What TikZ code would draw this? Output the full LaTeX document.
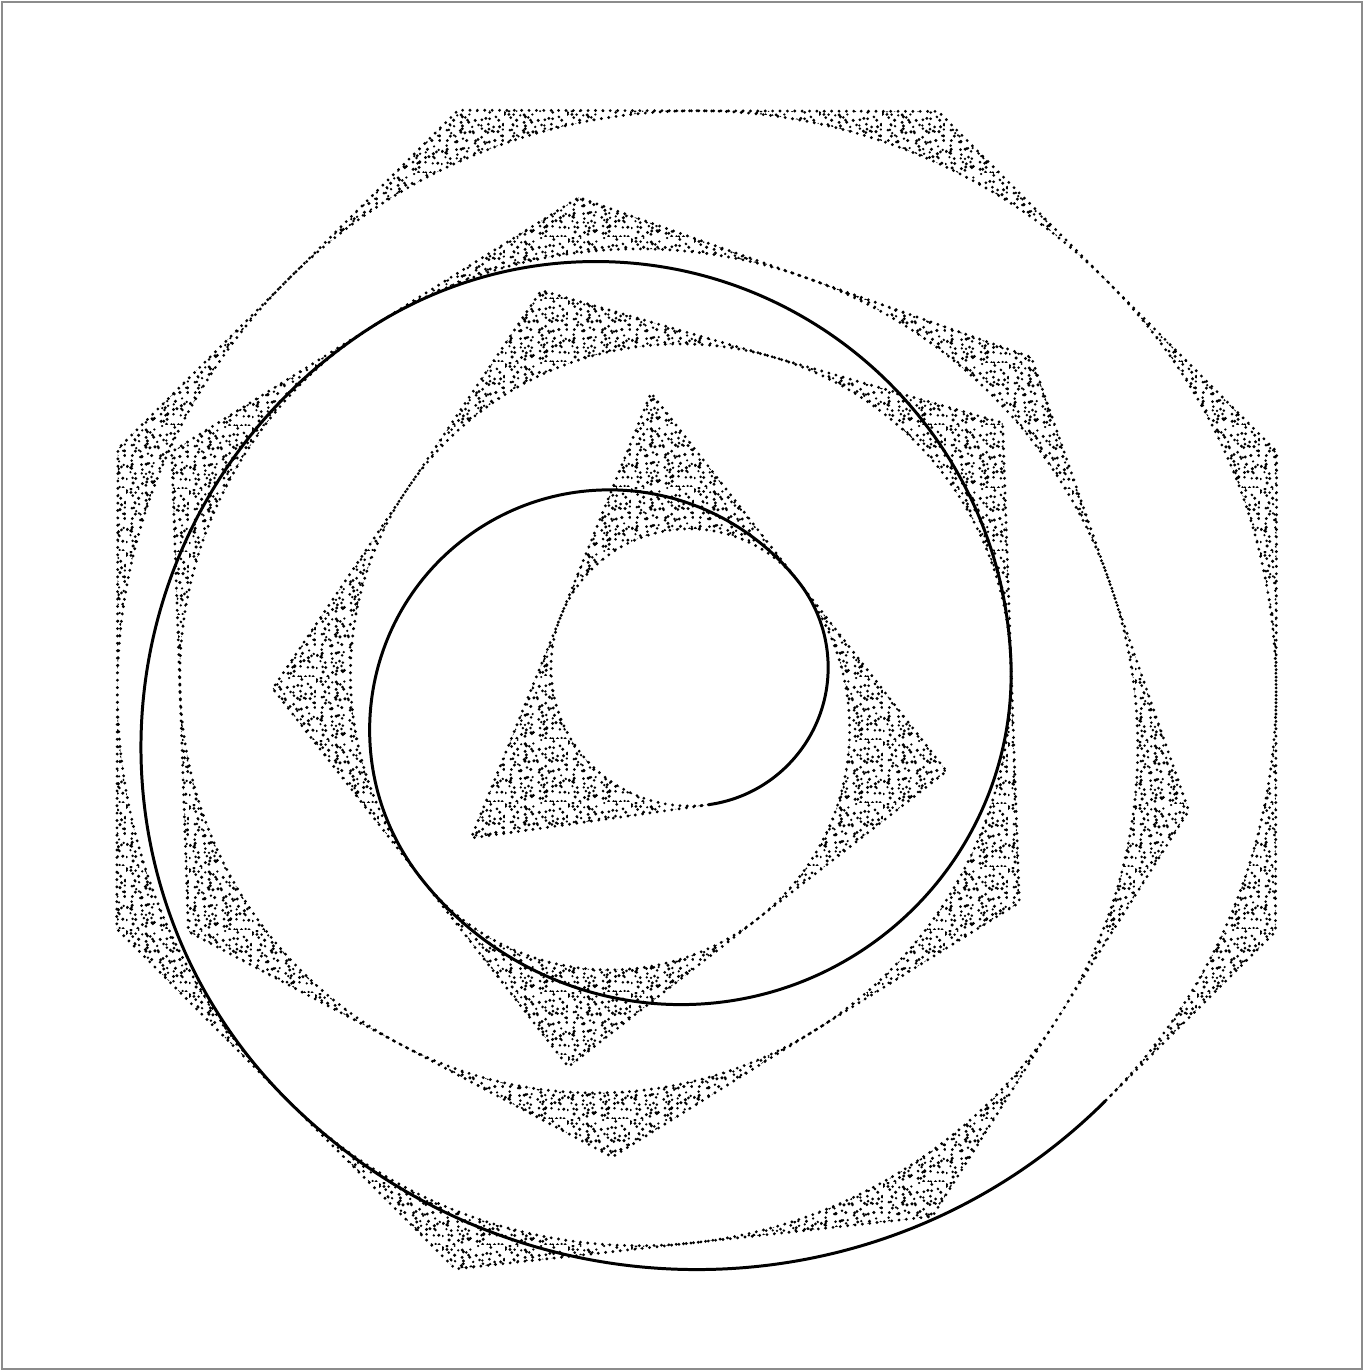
\documentclass[tikz,border=0pt]{standalone}
\usetikzlibrary{calc,patterns}
\pgfdeclarepatternformonly{stipple}{\pgfqpoint{0pt}{0pt}}{\pgfqpoint{18pt}{18pt}}{\pgfqpoint{18pt}{18pt}}{%
  \pgfmathsetseed{4711}%
  \foreach \i in {0,...,11}{%
    \foreach \j in {0,...,11}{%
      \pgfmathsetmacro\sx{mod((\i+0.5+1.5*(rnd-0.5))*1.5+18,18)}%
      \pgfmathsetmacro\sy{mod((\j+0.5+1.5*(rnd-0.5))*1.5+18,18)}%
      \pgfmathsetmacro\sr{0.34+0.16*rnd}%
      \pgfpathcircle{\pgfqpoint{\sx pt}{\sy pt}}{\sr pt}%
      \pgfusepath{fill}%
    }%
  }%
}
\begin{document}
\begin{tikzpicture}[
  band/.style={pattern=stipple, pattern color=black, draw=black, line width=0.9pt,
               line cap=round, dash pattern=on 0pt off 2.1pt},
  spiralline/.style={draw=black, line width=0.85pt},
  frame/.style={draw=black!45, line width=0.5pt}]
\useasboundingbox (0,0) rectangle (13.64,13.71);
\draw[frame] (0.02,0.02) rectangle (13.62,13.69);
\def\side{4.80}
\def\ang{-112.0}
\pgfmathsetmacro\rA{\side*0.288675}
\pgfmathsetmacro\rB{\side*0.5}
\pgfmathsetmacro\rC{\side*0.688191}
\pgfmathsetmacro\rD{\side*0.866025}
\pgfmathsetmacro\rE{\side*1.038261}
\pgfmathsetmacro\rF{\side*1.207107}
\pgfmathsetmacro\aT{\ang+30}
\pgfmathsetmacro\aS{\ang+150}
\pgfmathsetmacro\aP{\ang+330}
\pgfmathsetmacro\aX{\ang+474}
\pgfmathsetmacro\aH{\ang+594}
\pgfmathsetmacro\aO{\ang+696.857}
% triangle
\coordinate (V0) at (6.51,9.78);
\coordinate (V1) at ($(V0)+(\ang:\side)$);
\coordinate (V2) at ($(V1)!1!-60:(V0)$);
% square
\coordinate (S0) at (V2);
\coordinate (S1) at (V0);
\coordinate (S2) at ($(S1)!1!-90:(S0)$);
\coordinate (S3) at ($(S2)!1!-90:(S1)$);
% pentagon
\coordinate (P0) at (S2);
\coordinate (P1) at (S3);
\coordinate (P2) at ($(P1)!1!-108:(P0)$);
\coordinate (P3) at ($(P2)!1!-108:(P1)$);
\coordinate (P4) at ($(P3)!1!-108:(P2)$);
% hexagon
\coordinate (X0) at (P2);
\coordinate (X1) at (P3);
\coordinate (X2) at ($(X1)!1!-120:(X0)$);
\coordinate (X3) at ($(X2)!1!-120:(X1)$);
\coordinate (X4) at ($(X3)!1!-120:(X2)$);
\coordinate (X5) at ($(X4)!1!-120:(X3)$);
% heptagon
\coordinate (H0) at (X2);
\coordinate (H1) at (X3);
\coordinate (H2) at ($(H1)!1!-128.5714:(H0)$);
\coordinate (H3) at ($(H2)!1!-128.5714:(H1)$);
\coordinate (H4) at ($(H3)!1!-128.5714:(H2)$);
\coordinate (H5) at ($(H4)!1!-128.5714:(H3)$);
\coordinate (H6) at ($(H5)!1!-128.5714:(H4)$);
% octagon
\coordinate (O0) at (H2);
\coordinate (O1) at (H3);
\coordinate (O2) at ($(O1)!1!-135:(O0)$);
\coordinate (O3) at ($(O2)!1!-135:(O1)$);
\coordinate (O4) at ($(O3)!1!-135:(O2)$);
\coordinate (O5) at ($(O4)!1!-135:(O3)$);
\coordinate (O6) at ($(O5)!1!-135:(O4)$);
\coordinate (O7) at ($(O6)!1!-135:(O5)$);
% tangent points (edge midpoints)
\coordinate (TM1) at ($(V1)!0.5!(V2)$);
\coordinate (TM2) at ($(V2)!0.5!(V0)$);
\coordinate (SM0) at ($(S0)!0.5!(S1)$);
\coordinate (SM2) at ($(S2)!0.5!(S3)$);
\coordinate (PM0) at (SM2);
\coordinate (PM2) at ($(P2)!0.5!(P3)$);
\coordinate (XM0) at (PM2);
\coordinate (XM2) at ($(X2)!0.5!(X3)$);
\coordinate (HM0) at (XM2);
\coordinate (HM2) at ($(H2)!0.5!(H3)$);
\coordinate (OM0) at (HM2);
\coordinate (OM2) at ($(O2)!0.5!(O3)$);
% stippled bands (polygon minus incircle, where the spiral does not run)
\path[band] (OM2) -- (O3) -- (O4) -- (O5) -- (O6) -- (O7) -- (O0) -- (OM0)
  arc[start angle=\aO, delta angle=-270, radius=\rF] -- cycle;
\path[band] (HM2) -- (H3) -- (H4) -- (H5) -- (H6) -- (H0) -- (HM0)
  arc[start angle=\aH, delta angle=-257.143, radius=\rE] -- cycle;
\path[band] (XM2) -- (X3) -- (X4) -- (X5) -- (X0) -- (XM0)
  arc[start angle=\aX, delta angle=-240, radius=\rD] -- cycle;
\path[band] (PM2) -- (P3) -- (P4) -- (P0) -- (PM0)
  arc[start angle=\aP, delta angle=-216, radius=\rC] -- cycle;
\path[band] (SM2) -- (S3) -- (S0) -- (SM0)
  arc[start angle=\aS, delta angle=-180, radius=\rB] -- cycle;
\path[band] (TM2) -- (V0) -- (V1) -- (TM1)
  arc[start angle=\aT, delta angle=-240, radius=\rA] -- cycle;
% spiral
\draw[spiralline] (TM1)
  arc[start angle=\aT, delta angle=120, radius=\rA]
  arc[start angle=\aS, delta angle=180, radius=\rB]
  arc[start angle=\aP, delta angle=144, radius=\rC]
  arc[start angle=\aX, delta angle=120, radius=\rD]
  arc[start angle=\aH, delta angle=102.857, radius=\rE]
  arc[start angle=\aO, delta angle=90, radius=\rF];
\end{tikzpicture}
\end{document}
